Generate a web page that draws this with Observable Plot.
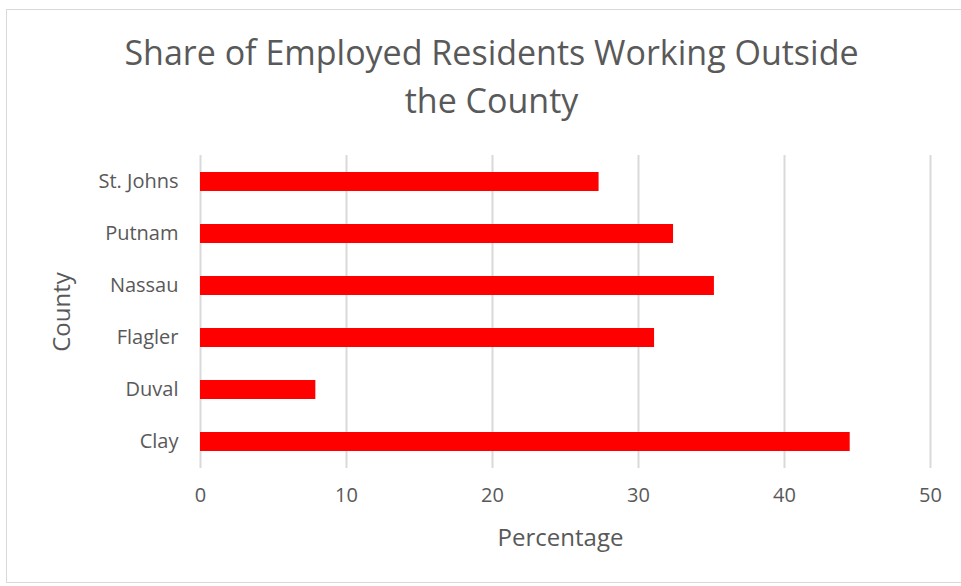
<!DOCTYPE html>
<html>
<head>
<meta charset="utf-8">
<script src="https://cdn.jsdelivr.net/npm/d3@7"></script>
<script src="https://cdn.jsdelivr.net/npm/@observablehq/plot@0.6"></script>
<style>
  html, body { margin: 0; padding: 0; background: #fff; }
  #wrap { position: relative; width: 961px; height: 586px; overflow: hidden; font-family: "Open Sans", sans-serif; }
  #frame { position: absolute; left: 6px; top: 9px; width: 970px; height: 574px; border: 1px solid #d9d9d9; box-sizing: border-box; }
  #title { position: absolute; left: 0; top: 28px; width: 983px; text-align: center; font-size: 34px; line-height: 48px; color: #595959; }
  #chart { position: absolute; left: 0; top: 0; }
</style>
</head>
<body>
<div id="wrap">
  <div id="frame"></div>
  <div id="chart"></div>
  <div id="title">Share of Employed Residents Working Outside<br>the County</div>
</div>
<script>
const counties = ["St. Johns", "Putnam", "Nassau", "Flagler", "Duval", "Clay"];
const percentages = [27.3, 32.4, 35.2, 31.1, 7.9, 44.5];
const xTicks = [0, 10, 20, 30, 40, 50];

const data = counties.map((c, i) => ({county: c, pct: percentages[i]}));

const chart = Plot.plot({
  width: 961,
  height: 586,
  marginLeft: 200,
  marginRight: 31,
  marginTop: 155,
  marginBottom: 118,
  style: {fontFamily: "Open Sans, sans-serif", fontSize: "20px", color: "#595959", background: "transparent"},
  x: {domain: [0, 50], ticks: xTicks, label: null},
  y: {domain: counties, paddingInner: 0.64, paddingOuter: 0.32, label: null},
  marks: [
    Plot.gridX(xTicks, {stroke: "#d9d9d9", strokeOpacity: 1, strokeWidth: 2}),
    Plot.barX(data, {y: "county", x: "pct", fill: "#ff0000"}),
    Plot.axisX(xTicks, {tickSize: 0, tickPadding: 19, fontSize: 20, fill: "#595959"}),
    Plot.axisY({tickSize: 0, tickPadding: 22, fontSize: 20, fill: "#595959"}),
    Plot.text(["Percentage"], {frameAnchor: "bottom", dx: -5, dy: 77, fontSize: 24, fill: "#595959"}),
    Plot.text(["County"], {frameAnchor: "left", textAnchor: "middle", dx: -138, rotate: -90, fontSize: 24, fill: "#595959"})
  ]
});
document.getElementById("chart").appendChild(chart);
</script>
</body>
</html>
